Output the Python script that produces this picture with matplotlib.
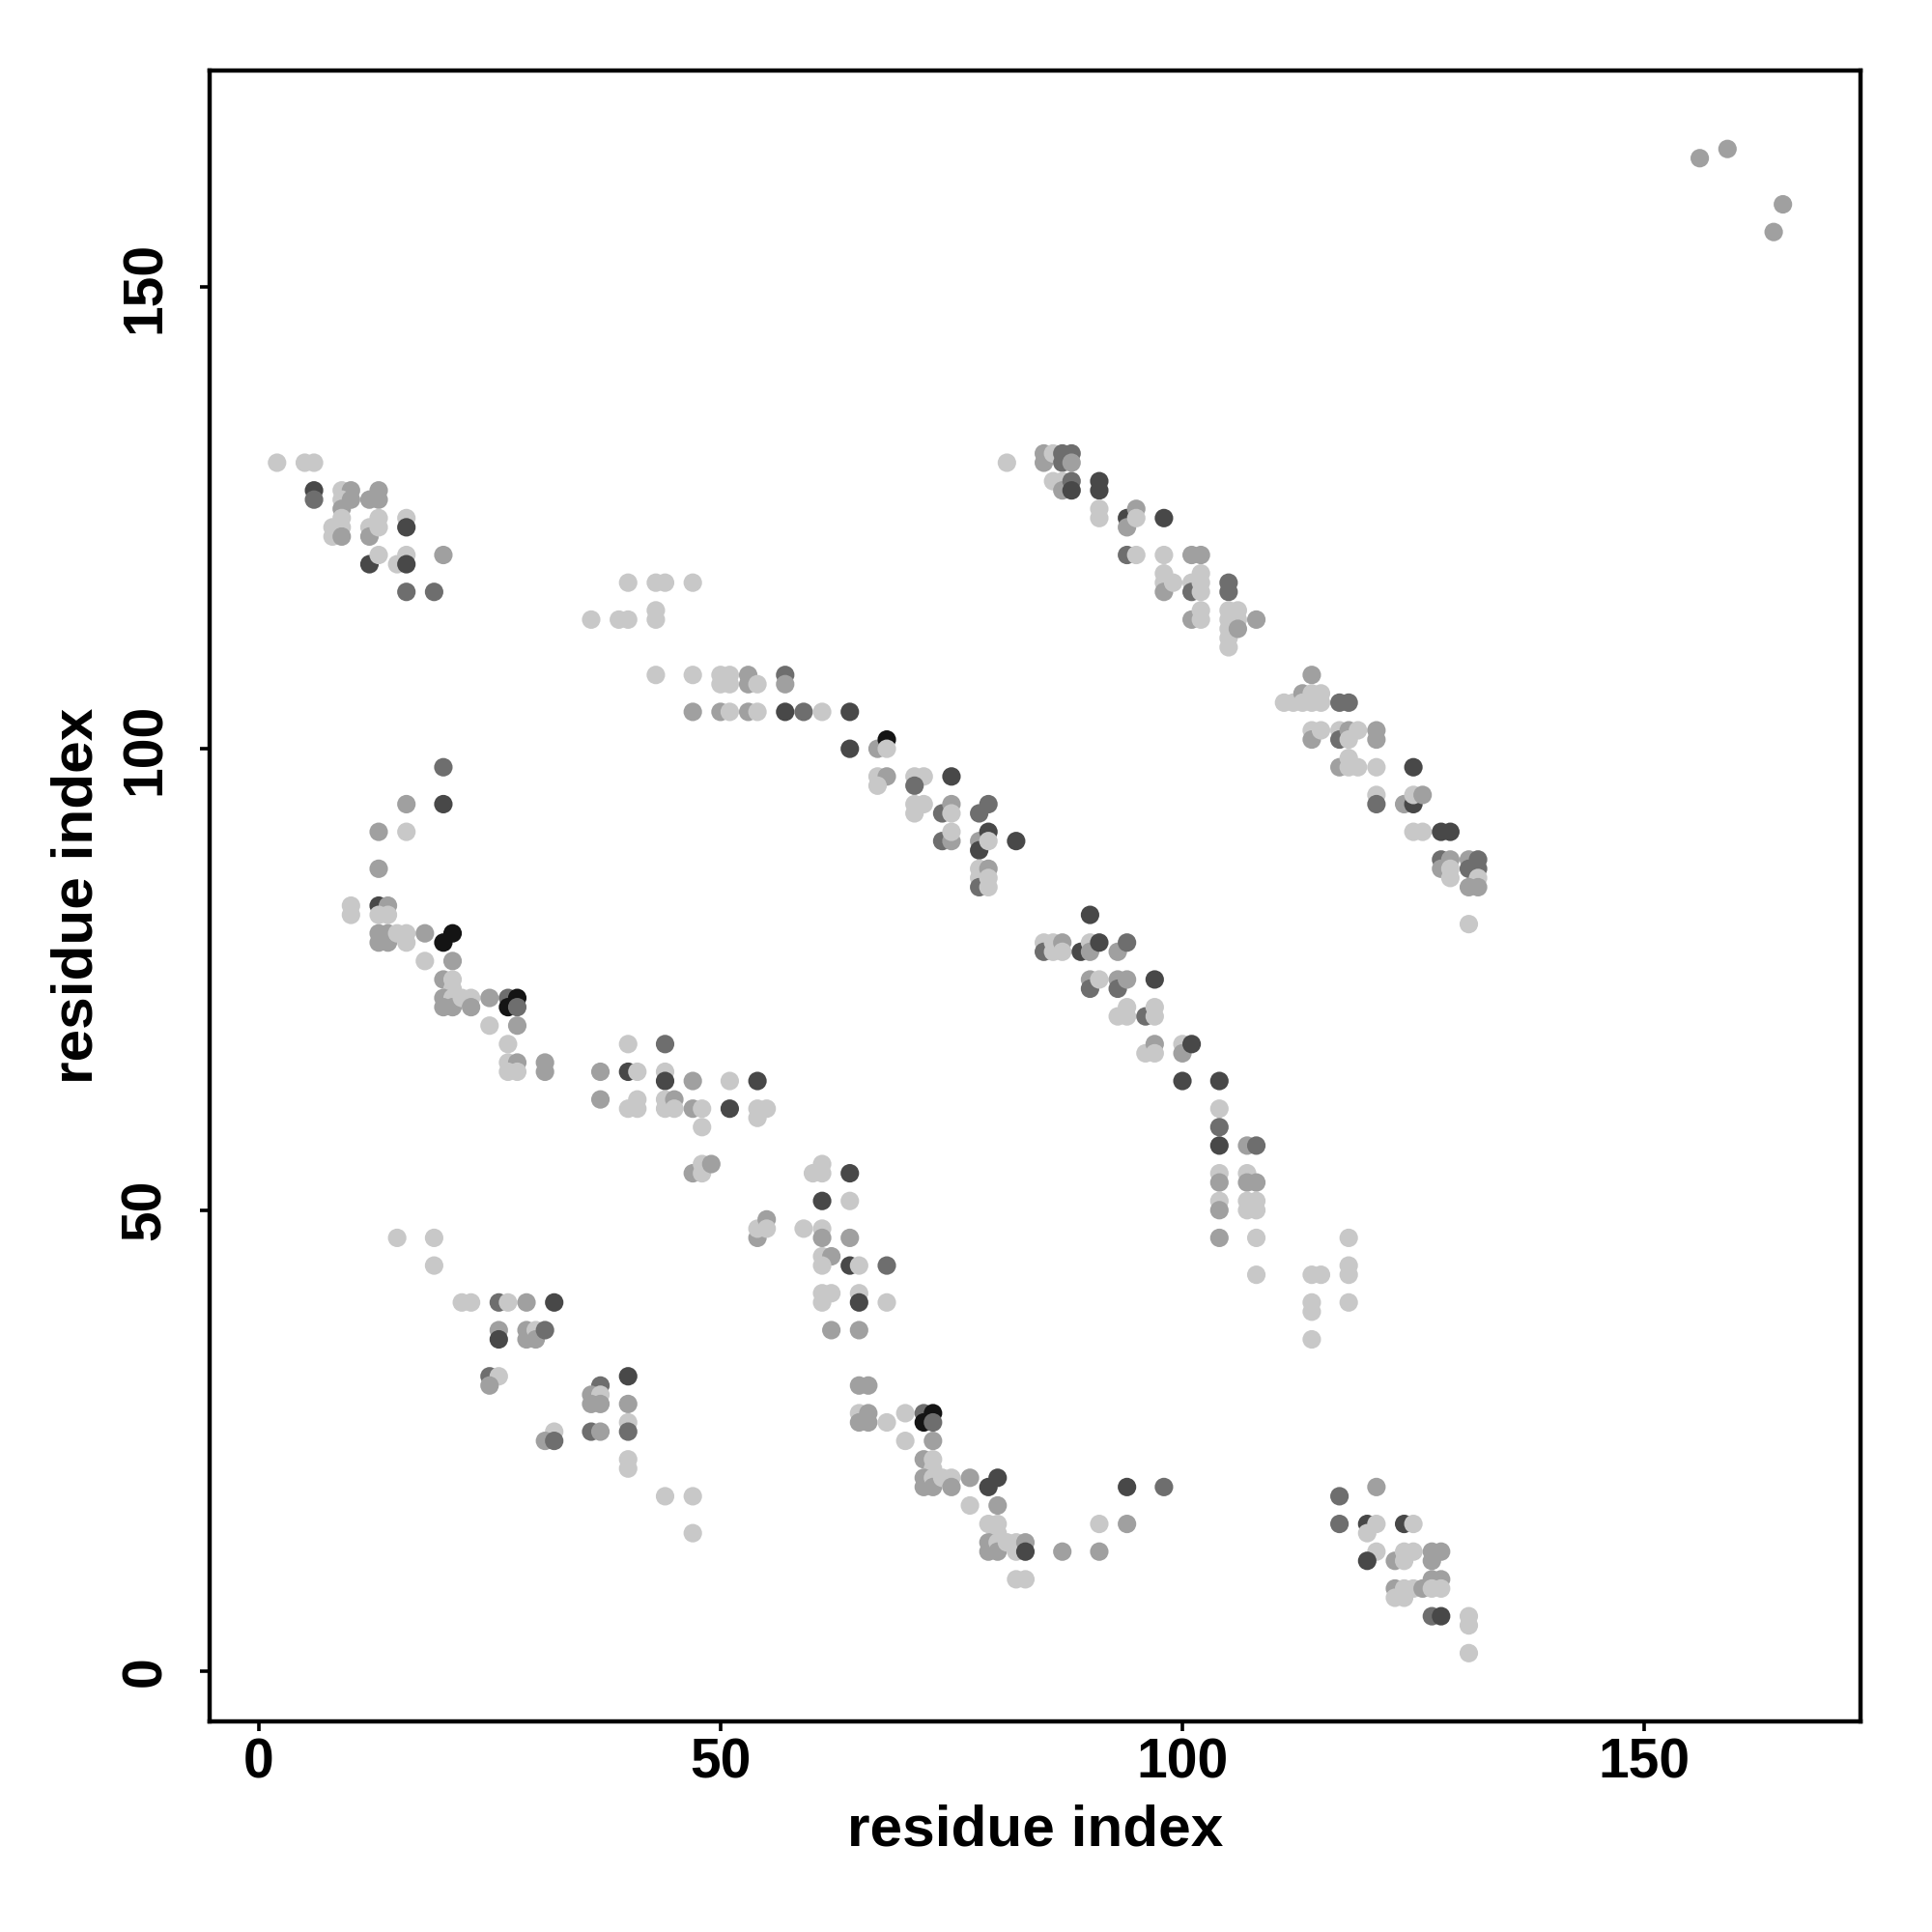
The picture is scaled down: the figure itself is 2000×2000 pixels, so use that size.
import matplotlib
matplotlib.use("Agg")
import matplotlib.pyplot as plt

# contact map: residue i, residue j, shade level (1 = light ... 5 = black)
res_i = [
    2, 5, 6, 6, 6, 9, 10, 9, 10, 9, 12, 13, 13, 8, 8, 9, 9, 9, 12, 12, 13, 13, 16, 16,
    12, 13, 15, 16, 16, 20, 16, 19,
    20, 16, 20, 13, 16, 13, 10, 10, 13, 14, 13, 14, 13, 13, 14, 14, 15, 16, 16,
    18, 20, 21, 18, 21, 20, 21, 21, 20, 21, 20, 21, 22, 23, 23,
    25, 27, 28, 27, 28, 25, 28, 27, 27, 28, 27, 28, 31, 31,
    15, 19, 19, 22, 23, 26, 27, 29, 32, 26, 26, 29, 29, 30, 30, 31,
    25, 26, 25, 32, 31, 32, 37, 36, 37, 36, 37, 40, 40, 40, 40, 36, 37,
    40, 40, 44, 47, 47,
    40, 44, 37, 40, 41, 44, 44, 47, 51, 54, 37, 40, 41, 41, 44, 44, 45, 45,
    47, 48, 48, 51, 54, 55, 54, 47, 48, 48, 49, 54, 54, 55, 55, 59,
    60, 61, 61, 64, 61, 64, 61, 61, 64, 61, 62, 61, 64, 65, 68,
    61, 62, 61, 65, 65, 68, 62, 65, 65, 66, 65, 66, 65, 66, 68,
    70, 72, 73, 72, 73, 70, 73, 72, 73, 73, 72, 72, 73, 73, 74, 75, 75,
    77, 79, 80, 77, 80, 79, 80, 80, 79, 79, 80, 80, 81, 82, 82, 83, 83,
    87, 91, 91, 94, 94, 98, 82, 83,
    40, 43, 44, 47, 36, 39, 40, 43, 43,
    43, 47, 50, 51, 50, 51, 53, 53, 54, 57, 57,
    47, 50, 51, 53, 54, 57, 59, 61, 64,
    64, 67, 68, 68, 67, 68, 67, 71, 72, 71, 75,
    71, 71, 72, 74, 75, 75, 78, 79, 74, 75, 75, 78, 78, 79, 79, 82,
    78, 78, 78, 79, 79, 79,
    90, 85, 85, 86, 86, 87, 87, 89, 90, 90, 91, 93, 94,
    90, 90, 91, 93, 93, 94, 97, 93, 94, 94, 96, 97, 97,
    96, 97, 97, 100, 100, 101, 100, 104, 104, 104, 104, 107, 108,
    104, 104, 107, 107, 108, 104, 104, 107, 107, 108, 108, 104, 108,
    108, 114, 115, 118, 118, 118, 114, 114, 118, 114,
    81, 85, 85, 86, 87, 87, 88, 88, 86, 87, 87, 88, 88, 91, 91,
    91, 91, 94, 94, 95, 95, 98, 94, 95, 98, 101, 102,
    98, 98, 98, 99, 101, 101, 102, 102, 102, 101, 102, 102,
    105, 105, 105, 105, 105, 105, 105, 106, 106, 106, 108,
    114, 111, 112, 113, 113, 114, 114, 115, 115, 117, 118,
    114, 114, 115, 117, 117, 118, 118, 119, 121, 121,
    117, 118, 118, 119, 121, 125, 121, 121, 124, 125, 125, 126,
    125, 126, 128, 129,
    128, 128, 129, 129, 129, 131, 131, 132, 132, 132, 131, 132, 131,
    117, 121, 117, 120, 121, 120, 124, 125,
    121, 120, 123, 124, 125, 124, 127, 128, 127,
    123, 123, 124, 124, 125, 126, 127, 128, 127, 128,
    127, 128, 131, 131, 131,
    156, 159, 164, 165,
]
res_j = [
    131, 131, 131, 128, 127, 128, 128, 127, 127, 126, 127, 128, 127, 124, 123, 124, 123, 125, 124, 123, 125, 124, 125, 124,
    120, 121, 120, 121, 120, 121, 117, 117,
    98, 94, 94, 91, 91, 87, 83, 82, 83, 83, 82, 82, 80, 79, 80, 79, 80, 80, 79,
    80, 79, 80, 77, 77, 75, 75, 74, 73, 73, 72, 72, 73, 73, 72,
    73, 73, 73, 72, 72, 70, 70, 68, 66, 66, 65, 65, 66, 65,
    47, 47, 44, 40, 40, 40, 40, 40, 40, 37, 36, 37, 36, 37, 36, 37,
    32, 32, 31, 26, 25, 25, 31, 30, 30, 29, 29, 32, 29, 27, 26, 26, 26,
    23, 22, 19, 19, 15,
    68, 68, 65, 65, 65, 65, 64, 64, 64, 64, 62, 61, 62, 61, 62, 61, 62, 61,
    61, 61, 59, 61, 61, 61, 60, 54, 55, 54, 55, 47, 48, 49, 48, 48,
    54, 55, 54, 54, 51, 51, 48, 47, 47, 45, 45, 44, 44, 44, 44,
    41, 41, 40, 41, 40, 40, 37, 37, 31, 31, 28, 28, 27, 27, 27,
    28, 28, 28, 27, 27, 25, 25, 23, 23, 22, 21, 20, 21, 20, 21, 21, 20,
    21, 20, 21, 18, 18, 16, 16, 15, 14, 13, 14, 13, 14, 14, 13, 14, 13,
    13, 13, 16, 16, 20, 20, 10, 10,
    118, 118, 118, 118, 114, 114, 114, 115, 114,
    108, 108, 108, 108, 107, 107, 108, 107, 107, 108, 107,
    104, 104, 104, 104, 104, 104, 104, 104, 104,
    100, 100, 101, 100, 97, 97, 96, 97, 97, 96, 97,
    94, 93, 94, 93, 94, 93, 93, 94, 90, 90, 91, 90, 89, 91, 90, 90,
    87, 86, 85, 87, 86, 85,
    82, 79, 78, 79, 78, 79, 78, 78, 79, 78, 79, 78, 79,
    75, 74, 75, 75, 74, 75, 75, 71, 72, 71, 71, 72, 71,
    67, 68, 67, 68, 67, 68, 64, 64, 61, 59, 57, 57, 57,
    54, 53, 54, 53, 53, 51, 50, 51, 50, 51, 50, 47, 47,
    43, 43, 43, 47, 44, 43, 40, 39, 40, 36,
    131, 132, 131, 132, 132, 131, 132, 131, 129, 129, 128, 129, 128, 129, 128,
    126, 125, 125, 124, 126, 125, 125, 121, 121, 121, 121, 121,
    119, 118, 117, 118, 118, 117, 119, 118, 117, 114, 115, 114,
    118, 117, 115, 114, 113, 112, 111, 115, 114, 113, 114,
    108, 105, 105, 106, 105, 106, 105, 106, 105, 105, 105,
    102, 101, 102, 102, 101, 102, 101, 102, 102, 101,
    98, 99, 98, 98, 98, 98, 95, 94, 94, 94, 95, 95,
    91, 91, 91, 91,
    88, 87, 88, 87, 86, 88, 87, 88, 87, 86, 85, 85, 81,
    19, 20, 16, 16, 16, 15, 16, 16,
    13, 12, 12, 13, 13, 12, 13, 13, 12,
    9, 8, 9, 8, 9, 9, 10, 10, 9, 9,
    6, 6, 6, 5, 2,
    164, 165, 156, 159,
]
shade = [
    1, 1, 1, 4, 3, 1, 2, 1, 2, 2, 2, 2, 2, 1, 1, 1, 2, 1, 1, 2, 1, 1, 1, 4,
    4, 1, 1, 1, 4, 2, 3, 3,
    3, 2, 4, 2, 1, 2, 1, 1, 4, 2, 1, 1, 2, 2, 2, 2, 1, 1, 1,
    2, 5, 5, 1, 2, 2, 1, 1, 2, 1, 2, 2, 1, 1, 2,
    2, 3, 5, 5, 3, 1, 2, 1, 1, 2, 1, 1, 2, 2,
    1, 1, 1, 1, 1, 3, 1, 2, 4, 2, 4, 2, 2, 1, 2, 3,
    3, 1, 2, 1, 2, 3, 3, 2, 1, 2, 2, 4, 2, 1, 3, 3, 2,
    1, 1, 1, 1, 1,
    1, 3, 2, 4, 1, 1, 4, 2, 1, 4, 2, 1, 1, 1, 1, 1, 2, 1,
    2, 1, 1, 4, 1, 1, 1, 2, 1, 1, 2, 2, 1, 2, 1, 1,
    1, 1, 1, 4, 4, 1, 1, 2, 2, 1, 2, 1, 4, 1, 3,
    1, 1, 1, 1, 4, 1, 2, 2, 2, 2, 1, 2, 2, 2, 1,
    1, 3, 5, 5, 3, 1, 2, 2, 1, 1, 2, 2, 1, 2, 1, 1, 2,
    2, 4, 4, 1, 2, 1, 1, 1, 2, 2, 1, 2, 1, 1, 1, 2, 4,
    2, 2, 1, 2, 4, 3, 1, 1,
    1, 1, 1, 1, 1, 1, 1, 1, 1,
    1, 1, 1, 1, 1, 1, 2, 2, 1, 3, 2,
    2, 2, 1, 2, 1, 4, 3, 1, 4,
    4, 2, 5, 1, 1, 2, 1, 1, 1, 3, 4,
    1, 1, 1, 3, 2, 1, 3, 3, 3, 2, 1, 2, 4, 4, 1, 4,
    1, 1, 3, 2, 1, 1,
    4, 1, 3, 1, 1, 2, 1, 4, 1, 2, 4, 2, 3,
    2, 3, 1, 2, 3, 2, 4, 1, 1, 1, 3, 1, 1,
    1, 2, 1, 1, 2, 4, 4, 4, 1, 3, 4, 2, 3,
    1, 2, 1, 2, 2, 1, 2, 1, 1, 1, 1, 2, 1,
    1, 1, 1, 1, 1, 1, 1, 1, 1, 1,
    1, 2, 2, 1, 3, 3, 3, 2, 1, 1, 2, 3, 4, 4, 4,
    1, 1, 4, 2, 2, 1, 4, 3, 1, 1, 2, 2,
    1, 1, 2, 1, 1, 3, 1, 1, 1, 2, 1, 1,
    3, 3, 1, 1, 1, 1, 1, 1, 1, 2, 2,
    2, 1, 1, 2, 1, 1, 1, 1, 1, 3, 3,
    1, 2, 1, 1, 3, 2, 1, 1, 2, 2,
    2, 1, 1, 1, 1, 4, 1, 3, 2, 4, 1, 2,
    1, 1, 4, 4,
    3, 2, 2, 1, 1, 2, 3, 3, 3, 1, 2, 2, 1,
    3, 2, 3, 4, 1, 1, 4, 1,
    1, 4, 2, 1, 1, 1, 2, 2, 2,
    2, 1, 1, 1, 1, 2, 2, 2, 1, 1,
    3, 4, 1, 1, 1,
    2, 2, 2, 2,
]

grays = {1: "#c8c8c8", 2: "#a0a0a0", 3: "#6e6e6e", 4: "#484848", 5: "#141414"}
colors = [grays[s] for s in shade]

plt.rcParams["font.family"] = ["Liberation Sans", "DejaVu Sans"]
plt.rcParams["font.weight"] = "bold"

fig = plt.figure(figsize=(20, 20), dpi=100)
ax = fig.add_axes([0.1085, 0.109, 0.8545, 0.8545])

ax.scatter(res_i, res_j, s=190, c=colors, linewidths=0, zorder=2)

ax.set_xlim(-5.3, 173.4)
ax.set_ylim(-5.4, 173.5)
ax.set_xticks([0, 50, 100, 150])
ax.set_yticks([0, 50, 100, 150])

for sp in ax.spines.values():
    sp.set_linewidth(3.2)
ax.tick_params(axis="both", length=7, width=2.6, labelsize=41, direction="out")
ax.tick_params(axis="x", pad=5)
ax.tick_params(axis="y", pad=21)
for lbl in ax.get_yticklabels():
    lbl.set_rotation(90)
    lbl.set_va("center")
    lbl.set_ha("right")
for lbl in ax.get_xticklabels() + ax.get_yticklabels():
    lbl.set_fontweight("bold")

ax.set_xlabel("residue index", fontsize=43.5, fontweight="bold", labelpad=11)
ax.set_ylabel("residue index", fontsize=43.5, fontweight="bold", labelpad=12)

fig.savefig("out.png", dpi=100, facecolor="white")
